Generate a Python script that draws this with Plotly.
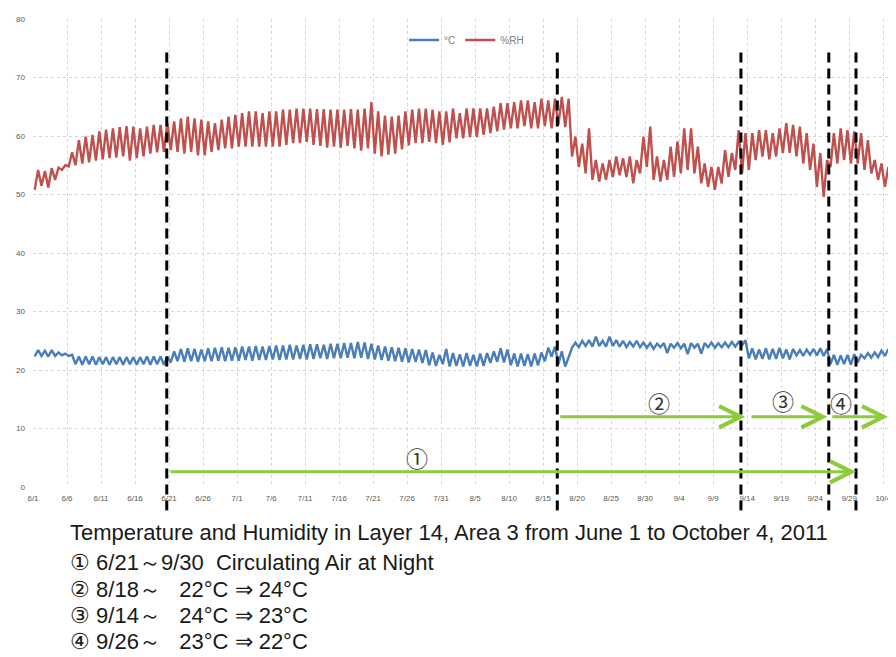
import plotly.graph_objects as go
import pandas as pd

# ---------------- data ----------------
start_date = "2011-06-01"
end_date = "2011-10-05"

# daily low / high readings, 6/1 ... 10/4
temp_low = [22.3, 22.4, 22.3, 22.4, 22.5, 22.4, 21.0, 20.9, 21.0, 20.9,
            21.0, 20.9, 21.0, 20.9, 21.0, 20.9, 21.0, 20.9, 21.0, 20.9,
            21.3, 21.5, 21.4, 21.5, 21.4, 21.5, 21.5, 21.6, 21.5, 21.6,
            21.6, 21.7, 21.6, 21.7, 21.7, 21.8, 21.7, 21.8, 21.8, 21.9,
            21.8, 21.9, 22.0, 21.9, 22.0, 22.0, 22.1, 22.0, 22.1, 21.9,
            21.8, 21.7, 21.6, 21.5, 21.4, 21.3, 21.4, 21.2, 20.8, 20.7,
            21.0, 20.6, 20.7, 20.6, 20.7, 20.6, 20.7, 21.2, 21.4, 21.3,
            20.8, 20.6, 20.7, 20.6, 20.8, 21.5, 22.3, 21.0, 20.6, 23.8,
            23.9, 24.1, 24.0, 24.1, 24.0, 24.1, 24.0, 23.9, 24.0, 23.9,
            23.8, 23.6, 23.9, 22.9, 23.8, 23.7, 22.7, 23.8, 22.8, 23.9,
            23.8, 23.9, 23.9, 24.0, 24.2, 22.0, 21.8, 21.9, 21.8, 21.9,
            22.0, 21.8, 22.5, 22.4, 22.6, 22.5, 22.4, 21.0, 20.9, 21.0,
            20.9, 21.3, 22.0, 22.1, 22.2, 22.4]
temp_high = [23.4, 23.3, 23.4, 23.0, 22.8, 22.6, 22.3, 22.3, 22.3, 22.2,
             22.2, 22.2, 22.2, 22.2, 22.2, 22.2, 22.3, 22.3, 22.3, 22.3,
             23.2, 23.6, 23.7, 23.6, 23.5, 23.7, 23.8, 23.9, 23.8, 23.9,
             24.0, 24.0, 24.1, 24.0, 24.1, 24.2, 24.2, 24.3, 24.2, 24.3,
             24.4, 24.4, 24.3, 24.5, 24.5, 24.6, 24.6, 24.8, 24.7, 24.5,
             24.2, 24.0, 23.9, 23.8, 23.7, 23.6, 23.5, 23.4, 23.0, 22.6,
             23.6, 22.9, 22.7, 22.9, 22.6, 22.8, 22.9, 23.2, 23.7, 23.5,
             22.8, 22.8, 22.7, 22.8, 23.0, 23.8, 24.0, 23.2, 22.2, 24.7,
             25.0, 25.1, 25.7, 25.0, 25.7, 25.1, 25.0, 24.8, 25.0, 24.7,
             24.6, 24.5, 24.6, 24.5, 24.6, 24.5, 24.6, 24.5, 24.6, 24.7,
             24.6, 24.7, 24.8, 24.8, 25.1, 23.7, 23.5, 23.7, 23.6, 23.8,
             23.5, 23.6, 23.4, 23.5, 23.6, 23.7, 23.6, 22.6, 22.5, 22.6,
             22.7, 22.6, 22.9, 23.0, 23.3, 23.6]
rh_low = [50.8, 51.5, 51.2, 52.5, 54.2, 54.8, 55.0, 55.3, 55.5, 55.8,
          56.0, 56.2, 56.3, 56.5, 55.8, 56.2, 56.5, 57.0, 57.2, 57.3,
          57.6, 57.3, 57.0, 57.3, 56.7, 56.7, 57.3, 57.6, 57.9, 57.9,
          58.2, 58.2, 58.2, 58.2, 58.2, 58.2, 58.2, 58.5, 58.8, 58.8,
          59.0, 58.5, 58.3, 58.0, 58.2, 58.0, 58.3, 57.9, 57.5, 57.9,
          57.0, 56.5, 56.8, 57.0, 57.7, 58.4, 58.8, 58.8, 59.0, 58.8,
          58.5, 58.9, 59.6, 59.6, 59.8, 59.8, 60.2, 60.5, 60.8, 61.1,
          61.3, 61.3, 61.7, 61.3, 61.3, 61.7, 61.3, 61.9, 61.5, 56.5,
          54.7, 53.6, 52.5, 52.2, 52.5, 53.0, 53.3, 53.0, 51.9, 53.6,
          54.7, 52.5, 52.2, 52.5, 53.0, 53.6, 54.2, 53.6, 51.9, 51.3,
          50.8, 51.9, 53.0, 54.2, 53.6, 54.2, 55.9, 56.5, 56.0, 56.5,
          57.1, 57.1, 56.5, 55.3, 54.2, 51.3, 49.6, 54.7, 55.3, 55.9,
          55.3, 55.3, 54.2, 53.6, 52.5, 51.3]
rh_high = [54.2, 54.0, 54.5, 54.6, 55.0, 57.2, 59.3, 59.9, 60.2, 60.8,
           61.1, 61.3, 61.5, 61.7, 61.6, 61.3, 61.6, 61.9, 61.9, 62.2,
           62.5, 63.0, 63.3, 63.0, 62.8, 62.5, 62.2, 62.8, 63.3, 63.6,
           63.9, 64.2, 64.2, 63.9, 64.2, 64.2, 64.5, 64.5, 64.7, 64.7,
           64.7, 64.6, 64.6, 64.5, 64.5, 64.5, 64.6, 64.5, 64.7, 65.8,
           64.2, 63.5, 63.3, 63.5, 64.2, 64.5, 64.7, 64.7, 64.5, 64.2,
           64.2, 64.7, 63.9, 64.7, 64.7, 64.7, 64.7, 65.0, 65.6, 65.6,
           65.8, 66.1, 66.1, 65.8, 66.4, 66.1, 66.4, 66.7, 66.4, 59.9,
           58.7, 61.3, 55.9, 55.3, 55.9, 56.5, 56.2, 56.5, 55.9, 59.9,
           61.6, 56.5, 55.9, 58.2, 59.1, 61.3, 61.3, 58.2, 55.3, 54.7,
           54.7, 57.6, 57.1, 61.0, 60.5, 60.5, 61.0, 61.0, 60.5, 61.3,
           62.2, 61.9, 61.6, 60.5, 58.7, 57.1, 55.9, 60.5, 61.3, 61.0,
           60.8, 60.5, 59.3, 55.9, 55.3, 54.7]

series_names = ["°C", "%RH"]

# event markers (dashed lines)
event_dates = ["2011-06-20 16:00", "2011-08-17 02:00", "2011-09-13 02:00",
               "2011-09-26 00:00", "2011-09-30 00:00"]

# green arrows: start, end, level, label, label date, label level
arrow_starts = ["2011-06-21 00:00", "2011-08-17 07:00", "2011-09-14 10:00", "2011-09-26 07:00"]
arrow_ends = ["2011-09-30 00:00", "2011-09-13 17:00", "2011-09-25 19:00", "2011-10-04 17:00"]
arrow_levels = [2.6, 12.0, 12.0, 12.0]
arrow_labels = ["①", "②", "③", "④"]
label_dates = ["2011-07-27 12:00", "2011-09-01 02:00", "2011-09-19 07:00", "2011-09-27 19:00"]
label_levels = [5.1, 14.5, 14.9, 14.5]

caption_lines = [
    "Temperature and Humidity in Layer 14, Area 3 from June 1 to October 4, 2011",
    "① 6/21～9/30  Circulating Air at Night",
    "② 8/18～   22°C ⇒ 24°C",
    "③ 9/14～   24°C ⇒ 23°C",
    "④ 9/26～   23°C ⇒ 22°C",
]

# ---------------- build ----------------
t0 = pd.Timestamp(start_date)


def zigzag(lows, highs):
    xs, ys = [], []
    for d, (lo, hi) in enumerate(zip(lows, highs)):
        xs += [t0 + pd.Timedelta(hours=24 * d + 6), t0 + pd.Timedelta(hours=24 * d + 18)]
        ys += [lo, hi]
    return xs, ys


fig = go.Figure()
tx, ty = zigzag(temp_low, temp_high)
rx, ry = zigzag(rh_low, rh_high)
fig.add_trace(go.Scatter(x=tx, y=ty, mode="lines", name=series_names[0],
                         line=dict(color="#4A7EBB", width=2.4)))
fig.add_trace(go.Scatter(x=rx, y=ry, mode="lines", name=series_names[1],
                         line=dict(color="#C0504D", width=2.4)))

for d in event_dates:
    fig.add_shape(type="line", xref="x", yref="paper", x0=d, x1=d, y0=-0.05, y1=0.934,
                  line=dict(color="black", width=3, dash="10px,6px"))

green = "#8CCB3C"
for s, e, lv in zip(arrow_starts, arrow_ends, arrow_levels):
    fig.add_annotation(x=e, y=lv, ax=s, ay=lv, xref="x", yref="y", axref="x", ayref="y",
                       text="", showarrow=True, arrowhead=5, arrowsize=1.4,
                       arrowwidth=3, arrowcolor=green, standoff=0, startstandoff=0)

for lab, d, lv in zip(arrow_labels, label_dates, label_levels):
    fig.add_annotation(x=d, y=lv, xref="x", yref="y", text=lab, showarrow=False,
                       font=dict(size=22, color="#333333", family="Noto Sans CJK JP"))

# page body has an 8px margin: figure is placed at (8, 8)
cap_y = [532, 562, 589, 615, 641]
for txt, py in zip(caption_lines, cap_y):
    fig.add_annotation(x=(68 - 33) / 859, y=(487 - py) / 468, xref="paper", yref="paper",
                       text=txt, showarrow=False, xanchor="left", yanchor="middle",
                       font=dict(size=22, color="#1a1a1a",
                                 family="Liberation Sans Narrow, Arial Narrow, Liberation Sans, sans-serif"))

axis_common = dict(showgrid=True, gridcolor="#d6d6d6", griddash="dot", gridwidth=1,
                   zeroline=False, showline=False, ticks="")

fig.update_layout(
    width=888, height=649,
    margin=dict(l=25, r=4, t=11, b=170),
    plot_bgcolor="white", paper_bgcolor="white",
    font=dict(family="Liberation Sans, Arial, sans-serif", color="#595959"),
    xaxis=dict(type="date", range=[start_date, end_date], tick0=start_date,
               dtick=5 * 86400000, tickformat="%-m/%-d", ticklabelstandoff=5,
               tickfont=dict(size=8, color="#595959"), **axis_common),
    yaxis=dict(range=[0, 80], dtick=10, tickfont=dict(size=8, color="#595959"),
               ticklabelstandoff=7, **axis_common),
    legend=dict(orientation="h", x=0.433, y=0.955, xanchor="left", yanchor="middle",
                font=dict(size=10, color="#7f7f7f"), bgcolor="rgba(0,0,0,0)",
                itemwidth=30),
    showlegend=True,
)

fig.write_html("out.html")
